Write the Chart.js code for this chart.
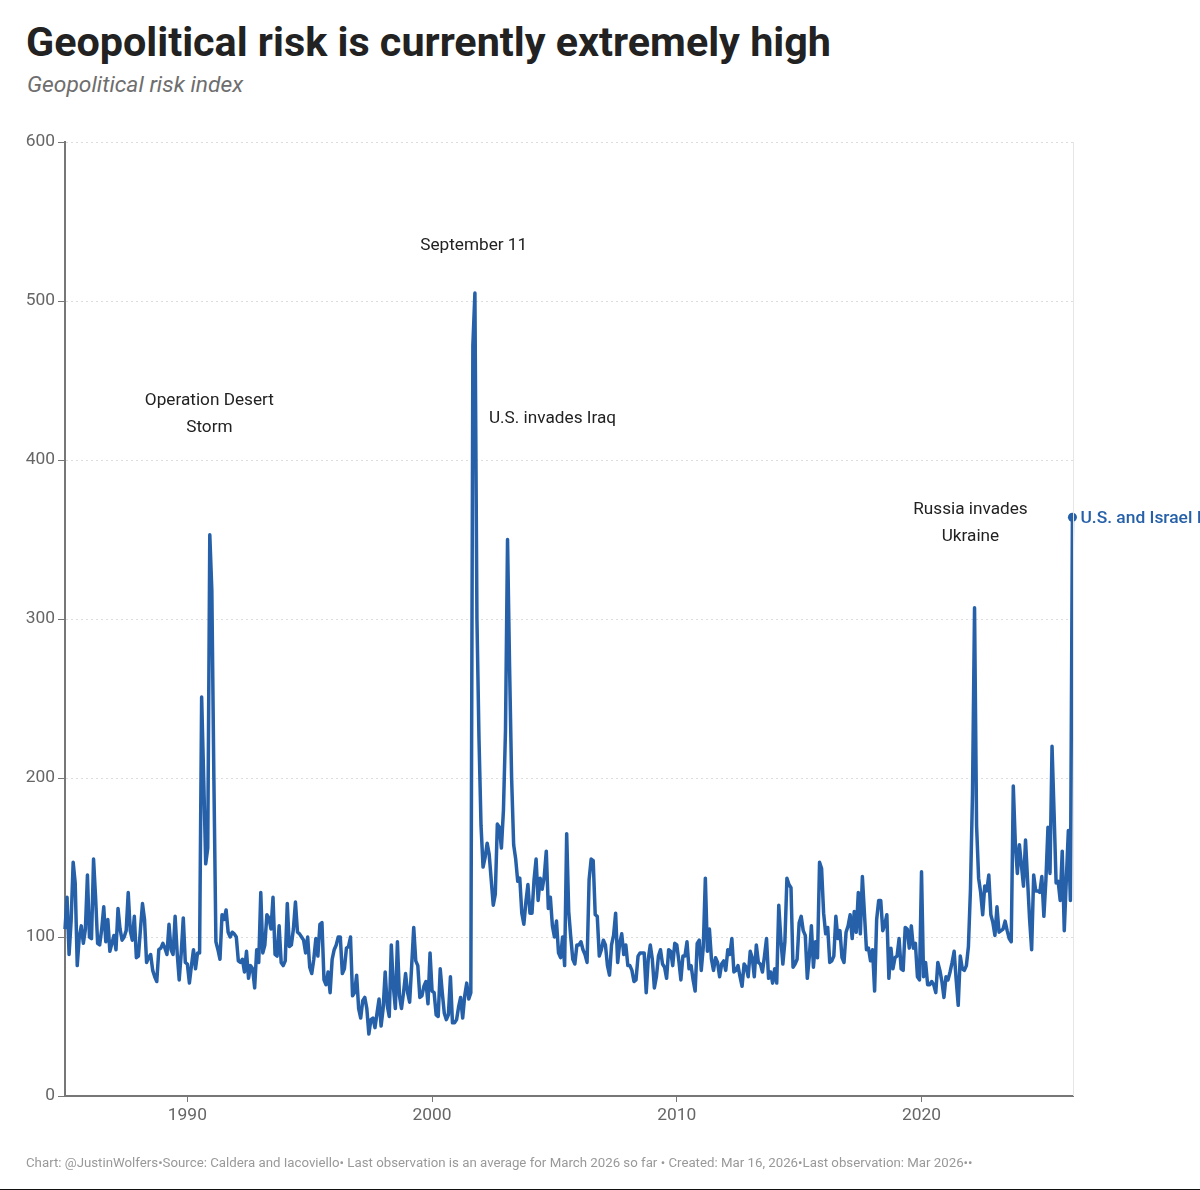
<!DOCTYPE html>
<html>
<head>
<meta charset="utf-8">
<title>Geopolitical risk is currently extremely high</title>
<script src="https://cdn.jsdelivr.net/npm/chart.js@4"></script>
<style>
    html, body { margin: 0; padding: 0; background: #fff; }
    body { position: relative; width: 1200px; height: 1190px; overflow: hidden; font-family: Roboto, sans-serif; }
    #chartCanvas { position: absolute; left: 0; top: 0; }
    h1 { position: absolute; left: 26px; top: 17px; margin: 0; font-size: 41.3px; line-height: 50px; font-weight: 700; color: #222; white-space: nowrap; }
    h2 { position: absolute; left: 27px; top: 71px; margin: 0; font-size: 22.8px; line-height: 28px; font-weight: 400; font-style: italic; color: #6e6e6e; white-space: nowrap; }
    #footer { position: absolute; left: 26px; top: 1155px; font-size: 13.25px; line-height: 16px; color: #999; white-space: nowrap; }
    #rule { position: absolute; left: 0; top: 1189px; width: 1200px; height: 1px; background: #111; }
</style>
</head>
<body>
<h1>Geopolitical risk is currently extremely high</h1>
<h2>Geopolitical risk index</h2>
<canvas id="chartCanvas" width="1200" height="1190"></canvas>
<div id="footer">Chart: @JustinWolfers•Source: Caldera and Iacoviello• Last observation is an average for March 2026 so far • Created: Mar 16, 2026•Last observation: Mar 2026••</div>
<div id="rule"></div>
<script>
// monthly index values, Jan 1985 to Mar 2026
const risk1985s = [
    105, 125, 89, 110, 147, 134, 82, 100, 107, 96, 105, 139,
    100, 99, 149, 125, 96, 95, 105, 119, 97, 111, 91, 96,
    101, 92, 118, 105, 98, 100, 104, 128, 104, 98, 113, 87,
    88, 105, 121, 111, 84, 87, 89, 79, 75, 72, 92, 93,
    96, 93, 89, 108, 92, 89, 113, 90, 73, 90, 112, 84
];
const risk1990s = [
    83, 71, 82, 92, 80, 90, 90, 251, 200, 146, 156, 353,
    318, 200, 97, 92, 86, 114, 111, 117, 103, 100, 103, 102,
    100, 85, 84, 86, 78, 91, 74, 82, 80, 68, 92, 84,
    128, 90, 95, 114, 112, 105, 125, 89, 88, 107, 84, 82,
    85, 121, 94, 95, 105, 122, 103, 102, 100, 98, 90, 100,
    81, 77, 86, 99, 88, 108, 109, 73, 70, 78, 65, 86,
    92, 95, 100, 100, 77, 80, 93, 94, 100, 63, 65, 76,
    55, 49, 60, 62, 55, 39, 48, 49, 43, 52, 61, 44,
    55, 78, 57, 50, 95, 69, 55, 97, 63, 55, 65, 77,
    65, 59, 82, 106, 85, 82, 62, 63, 69, 72, 58, 90
];
const risk2000s = [
    66, 65, 51, 50, 80, 65, 52, 48, 51, 75, 46, 46,
    48, 56, 62, 49, 63, 71, 61, 65, 472, 505, 300, 225,
    170, 144, 150, 159, 152, 136, 120, 127, 171, 169, 156, 180,
    230, 350, 270, 200, 158, 149, 135, 137, 115, 108, 122, 133,
    115, 115, 136, 149, 123, 137, 130, 138, 154, 118, 125, 107,
    100, 110, 90, 87, 100, 82, 165, 116, 100, 86, 83, 95,
    95, 97, 92, 89, 84, 136, 149, 148, 114, 113, 88, 92,
    98, 95, 82, 76, 95, 101, 115, 84, 96, 102, 89, 95,
    82, 82, 79, 72, 73, 88, 90, 90, 90, 65, 86, 95,
    86, 68, 75, 88, 92, 83, 81, 74, 92, 91, 82, 96
];
const risk2010s = [
    95, 85, 73, 88, 88, 97, 80, 82, 73, 66, 96, 98,
    79, 94, 137, 91, 105, 86, 79, 87, 84, 75, 83, 85,
    79, 92, 89, 99, 78, 79, 82, 75, 69, 83, 81, 75,
    91, 87, 75, 95, 84, 83, 78, 88, 99, 74, 78, 71,
    80, 71, 120, 99, 83, 97, 137, 133, 131, 81, 83, 86,
    109, 113, 104, 101, 74, 88, 107, 81, 97, 87, 147, 143,
    115, 102, 106, 84, 85, 88, 113, 99, 104, 87, 84, 103,
    107, 114, 99, 116, 103, 128, 102, 138, 115, 92, 93, 85,
    92, 66, 111, 123, 123, 104, 108, 114, 74, 93, 80, 87,
    88, 99, 80, 79, 106, 105, 93, 107, 93, 96, 75, 73
];
const risk2020s = [
    141, 75, 84, 70, 70, 72, 70, 65, 84, 79, 72, 62,
    75, 73, 78, 84, 91, 73, 57, 88, 80, 79, 82, 94,
    130, 190, 307, 170, 137, 128, 114, 132, 129, 139, 114, 109,
    101, 119, 103, 104, 105, 110, 104, 99, 97, 195, 159, 140,
    158, 145, 132, 161, 136, 111, 92, 139, 129, 129, 128, 138,
    113, 136, 169, 140, 220, 178, 134, 135, 123, 154, 104, 136,
    167, 123, 364
];
const riskValues = [...risk1985s, ...risk1990s, ...risk2000s, ...risk2010s, ...risk2020s];
const yearTicks = [1990, 2000, 2010, 2020];
const riskTicks = [0, 100, 200, 300, 400, 500, 600];

// event labels, anchored in data units
const eventNames = [['September 11'], ['Operation Desert', 'Storm'], ['U.S. invades Iraq'], ['Russia invades', 'Ukraine']];
const eventYears = [2001.7, 1990.9, 2004.92, 2022.0];
const eventLevels = [535, 437, 426, 369];
const lastLabel = 'U.S. and Israel I';

const lineColor = '#2560a8';
const fontFamily = 'Roboto, sans-serif';

const points = riskValues.map((v, i) => ({ x: 1985 + i / 12, y: v }));
const lastIndex = points.length - 1;

// 画事件文字和右边的细线
const labelPlugin = {
    id: 'eventLabels',
    afterDraw(chart) {
        const ctx = chart.ctx;
        const xs = chart.scales.x;
        const ys = chart.scales.y;
        const area = chart.chartArea;

        ctx.save();
        ctx.strokeStyle = '#e6e6e6';
        ctx.lineWidth = 1;
        ctx.beginPath();
        ctx.moveTo(area.right + 0.5, area.top);
        ctx.lineTo(area.right + 0.5, area.bottom);
        ctx.stroke();

        ctx.font = '400 17.2px ' + fontFamily;
        ctx.fillStyle = '#222';
        ctx.textAlign = 'center';
        ctx.textBaseline = 'middle';
        eventNames.forEach((lines, i) => {
            const px = xs.getPixelForValue(eventYears[i]);
            const py = ys.getPixelForValue(eventLevels[i]);
            lines.forEach((line, j) => ctx.fillText(line, px, py + j * 27));
        });

        // label of the last observation runs off the page
        const last = points[lastIndex];
        ctx.font = '500 17.4px ' + fontFamily;
        ctx.fillStyle = lineColor;
        ctx.textAlign = 'left';
        ctx.fillText(lastLabel, xs.getPixelForValue(last.x) + 8, ys.getPixelForValue(last.y) + 1.5);
        ctx.restore();
    }
};

new Chart(document.getElementById('chartCanvas').getContext('2d'), {
    type: 'line',
    data: {
        datasets: [{
            data: points,
            borderColor: lineColor,
            backgroundColor: lineColor,
            borderWidth: 3.5,
            borderJoinStyle: 'round',
            tension: 0,
            clip: false,
            pointRadius: ctx => ctx.dataIndex === lastIndex ? 4.5 : 0,
            pointBorderWidth: 0
        }]
    },
    options: {
        responsive: false,
        animation: false,
        layout: { padding: { left: 0, top: 142, right: 127, bottom: 0 } },
        plugins: { legend: { display: false }, tooltip: { enabled: false } },
        scales: {
            x: {
                type: 'linear',
                min: 1985,
                max: 2026.19,
                afterBuildTicks: axis => { axis.ticks = yearTicks.map(value => ({ value })); },
                afterFit: axis => { axis.height = 94; },
                grid: { drawOnChartArea: false, tickLength: 6, color: '#777' },
                border: { color: '#777', width: 2 },
                ticks: {
                    color: '#666',
                    font: { family: fontFamily, size: 17.4 },
                    padding: 3,
                    maxRotation: 0,
                    callback: value => String(value)
                }
            },
            y: {
                min: 0,
                max: 600,
                afterBuildTicks: axis => { axis.ticks = riskTicks.map(value => ({ value })); },
                afterFit: axis => { axis.width = 65; },
                grid: {
                    color: '#dddddd',
                    tickColor: '#777',
                    tickLength: 7,
                    tickBorderDash: []
                },
                border: { color: '#777', width: 2, dash: [2, 3] },
                ticks: {
                    color: '#666',
                    font: { family: fontFamily, size: 17.4 },
                    padding: 3
                }
            }
        }
    },
    plugins: [labelPlugin]
});
</script>
</body>
</html>
